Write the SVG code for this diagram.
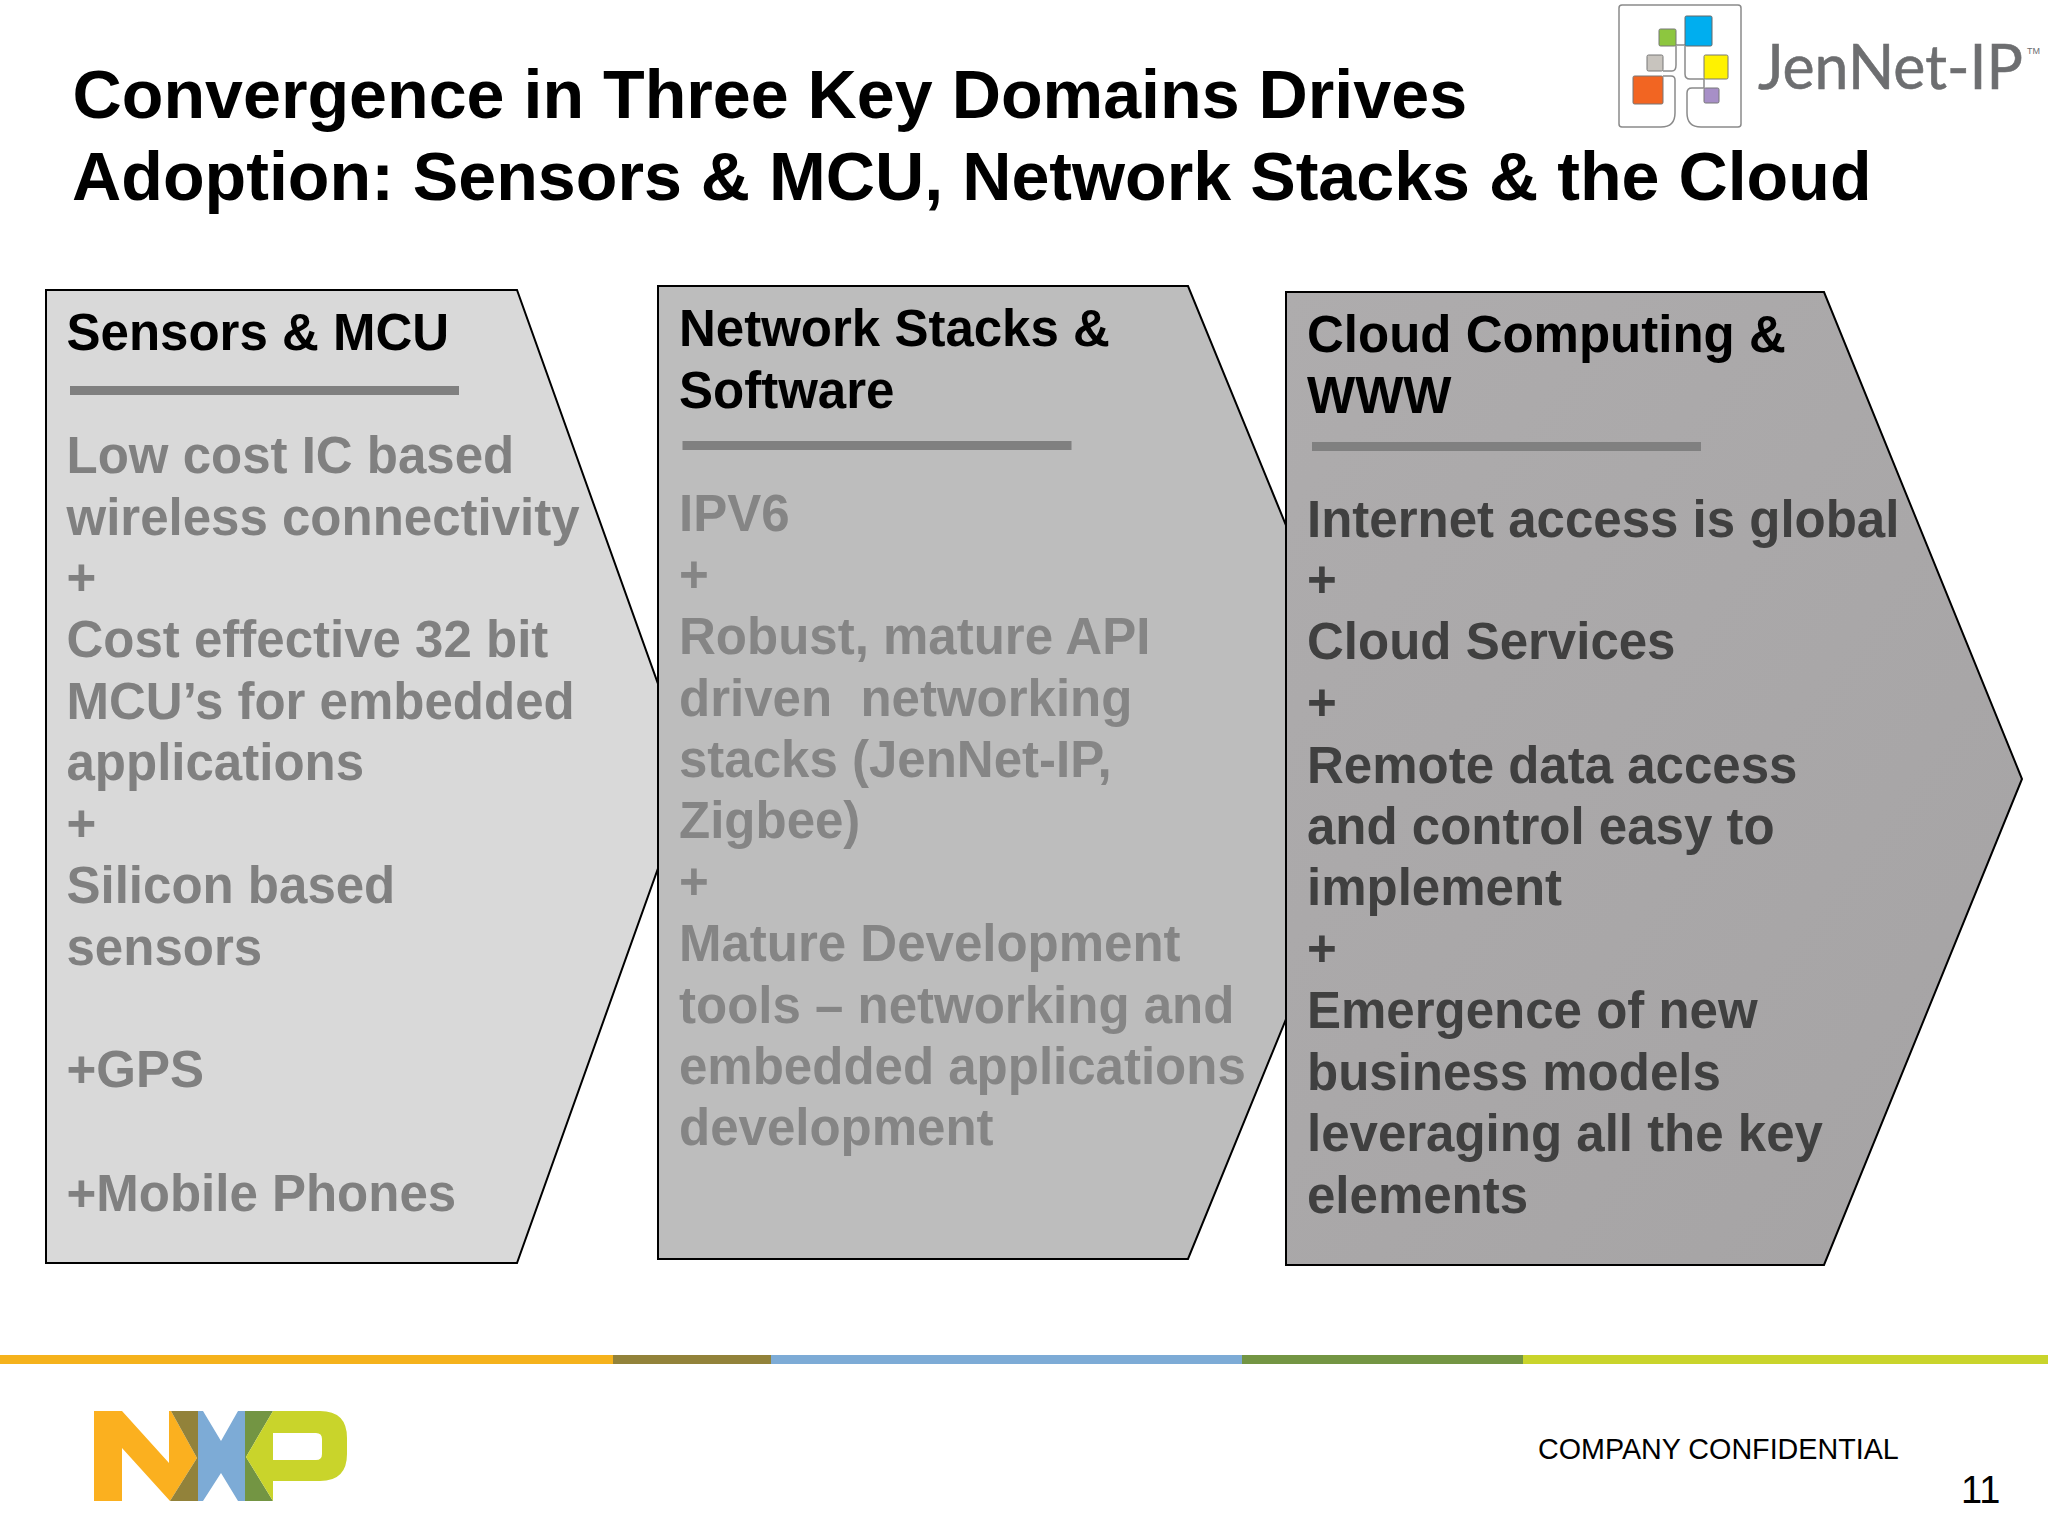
<svg xmlns="http://www.w3.org/2000/svg" width="2048" height="1536" viewBox="0 0 2048 1536">
<style>
.t{font-family:"Liberation Sans",Arial,sans-serif;font-weight:700;white-space:pre}
.title{font-size:68.2px;fill:#000}
.h{font-size:51px;fill:#000}
.b1{font-size:51px;fill:#808080}
.b2{font-size:51px;fill:#858585}
.b3{font-size:51px;fill:#404040}
.sh{stroke:#000;stroke-width:2}
.rule{fill:#808080}
.f{font-family:"Liberation Sans",Arial,sans-serif}
</style>
<defs>
<linearGradient id="g3" x1="0" y1="0" x2="1" y2="1"><stop offset="0" stop-color="#aeacad"/><stop offset="1" stop-color="#a5a3a4"/></linearGradient>
</defs>
<rect width="2048" height="1536" fill="#fff"/>
<g id="title" class="t title"><text x="72.5" y="118">Convergence in Three Key Domains Drives</text><text x="72" y="200">Adoption: Sensors &amp; MCU, Network Stacks &amp; the Cloud</text></g>
<g id="node-sensors">
<path class="sh" fill="#d9d9d9" d="M46 290H517L691 776L517 1263H46Z"/>
<g class="t h"><text x="66.5" y="350">Sensors &amp; MCU</text></g>
<rect class="rule" x="70" y="386" width="389" height="9"/>
<g class="t b1"><text x="66.5" y="473">Low cost IC based</text><text x="66.5" y="535">wireless connectivity</text><text x="66.5" y="595">+</text><text x="66.5" y="657">Cost effective 32 bit</text><text x="66.5" y="719">MCU’s for embedded</text><text x="66.5" y="780">applications</text><text x="66.5" y="841">+</text><text x="66.5" y="903">Silicon based</text><text x="66.5" y="965">sensors</text><text x="66.5" y="1087">+GPS</text><text x="66.5" y="1211">+Mobile Phones</text></g>
</g>
<g id="node-network">
<path class="sh" fill="#bdbdbd" d="M658 286H1188L1387 772L1188 1259H658Z"/>
<g class="t h"><text x="679" y="346">Network Stacks &amp;</text><text x="679" y="408">Software</text></g>
<rect class="rule" x="682.5" y="441" width="389" height="9"/>
<g class="t b2"><text x="679" y="531">IPV6</text><text x="679" y="592">+</text><text x="679" y="654">Robust, mature API</text><text x="679" y="716" xml:space="preserve">driven  networking</text><text x="679" y="777">stacks (JenNet-IP,</text><text x="679" y="838">Zigbee)</text><text x="679" y="899">+</text><text x="679" y="961">Mature Development</text><text x="679" y="1023">tools – networking and</text><text x="679" y="1084">embedded applications</text><text x="679" y="1145">development</text></g>
</g>
<g id="node-cloud">
<path class="sh" fill="url(#g3)" d="M1286 292H1824L2022 779L1824 1265H1286Z"/>
<g class="t h"><text x="1307" y="352">Cloud Computing &amp;</text><text x="1307" y="413">WWW</text></g>
<rect class="rule" x="1312" y="442" width="389" height="9"/>
<g class="t b3"><text x="1307" y="537">Internet access is global</text><text x="1307" y="597">+</text><text x="1307" y="659">Cloud Services</text><text x="1307" y="720">+</text><text x="1307" y="783">Remote data access</text><text x="1307" y="844">and control easy to</text><text x="1307" y="905">implement</text><text x="1307" y="966">+</text><text x="1307" y="1028">Emergence of new</text><text x="1307" y="1090">business models</text><text x="1307" y="1151">leveraging all the key</text><text x="1307" y="1213">elements</text></g>
</g>
<g id="footer-bar">
<rect x="0" y="1355" width="613" height="9" fill="#f5b21c"/><rect x="613" y="1355" width="158" height="9" fill="#92823a"/><rect x="771" y="1355" width="471" height="9" fill="#7dabd6"/><rect x="1242" y="1355" width="281" height="9" fill="#739543"/><rect x="1523" y="1355" width="525" height="9" fill="#c9d42b"/>
</g>
<g id="nxp-logo">
<path fill="#fbb01f" d="M94 1411H122L169 1463V1411H171L197 1458L170 1501L122 1448V1501H94Z"/>
<path fill="#92823a" d="M171 1411H198V1501H170L197 1458Z"/>
<path fill="#7dabd6" d="M198 1411H203L221 1441L238 1411H245V1501H238L221 1473L203 1501H198Z"/>
<path fill="#739543" d="M245 1411H273L246 1457L273 1501H245Z"/>
<path fill="#c9d42b" fill-rule="evenodd" d="M273 1411H320Q347 1411 347 1438V1454Q347 1481 320 1481H273V1501L246 1457ZM273 1433V1460H316Q322 1460 322 1454V1439Q322 1433 316 1433Z"/>
</g>
<g id="jennet-logo">
<g fill="none" stroke="#8a8a8a" stroke-width="1.5">
<path d="M1663 76H1671Q1675 76 1675 80V113Q1675 127 1661 127H1622Q1619 127 1619 124V8Q1619 5 1622 5H1738Q1741 5 1741 8V124Q1741 127 1738 127H1701Q1687 127 1687 113V93Q1687 88 1692 88H1704"/>
<path d="M1676 46V65Q1676 71 1672 71H1663"/>
<path d="M1685 46V74Q1685 79 1690 79H1704"/>
<path d="M1676 45H1685"/>
<path d="M1704 79V88"/>
</g>
<rect x="1659" y="29" width="17" height="17" rx="1.5" fill="#8dc63f" stroke="#777"/>
<rect x="1685" y="16" width="27" height="30" rx="1.5" fill="#00aeef" stroke="#666"/>
<rect x="1647" y="55" width="16" height="16" rx="1.5" fill="#c8c4be" stroke="#777"/>
<rect x="1704" y="55" width="24" height="24" rx="1.5" fill="#fff200" stroke="#777"/>
<rect x="1633" y="76" width="30" height="28" rx="1.5" fill="#f26522" stroke="#777"/>
<rect x="1704" y="88" width="15" height="15" rx="1.5" fill="#a78fc7" stroke="#777"/>
<text x="1758" y="89" font-family="Lato,'Liberation Sans',sans-serif" font-size="61" fill="#6d6e70" stroke="#6d6e70" stroke-width="0.6" textLength="265" lengthAdjust="spacingAndGlyphs">JenNet-IP</text>
<text x="2027" y="54" class="f" font-size="9" fill="#6d6e70">TM</text>
</g>
<text class="f" x="1538" y="1459" font-size="28.7" fill="#000">COMPANY CONFIDENTIAL</text>
<text class="f" x="1961" y="1503" font-size="38" fill="#000">11</text>
</svg>
